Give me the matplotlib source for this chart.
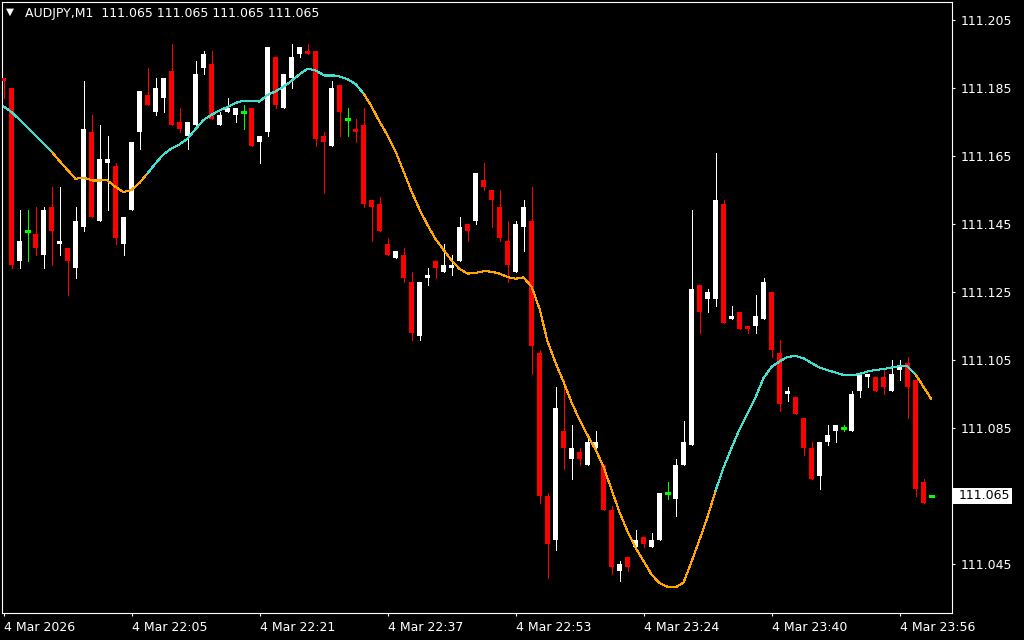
import matplotlib
matplotlib.use("Agg")
import matplotlib.pyplot as plt
import matplotlib.transforms as mtransforms
from matplotlib.collections import LineCollection
from matplotlib.patches import Rectangle
import numpy as np

# ---------------- data ----------------
header_symbol = "AUDJPY,M1"
header_ohlc = ["111.065", "111.065", "111.065", "111.065"]

opens = [111.188, 111.185, 111.134, 111.143, 111.142, 111.136, 111.150, 111.139, 111.138, 111.132,
         111.144, 111.172, 111.146, 111.163, 111.162, 111.139, 111.149, 111.172, 111.183, 111.178,
         111.182, 111.190, 111.175, 111.171, 111.174, 111.191, 111.192, 111.174, 111.178, 111.177,
         111.178, 111.179, 111.169, 111.172, 111.194, 111.179, 111.188, 111.195, 111.196, 111.196,
         111.171, 111.168, 111.186, 111.176, 111.173, 111.174, 111.152, 111.151, 111.139, 111.135,
         111.136, 111.128, 111.112, 111.129, 111.134, 111.131, 111.132, 111.134, 111.145, 111.146,
         111.158, 111.155, 111.150, 111.140, 111.131, 111.144, 111.146, 111.107, 111.065, 111.052,
         111.084, 111.076, 111.078, 111.074, 111.079, 111.074, 111.061, 111.043, 111.047, 111.050,
         111.053, 111.050, 111.052, 111.066, 111.064, 111.074, 111.080, 111.127, 111.123, 111.123,
         111.151, 111.117, 111.119, 111.115, 111.115, 111.117, 111.125, 111.107, 111.095, 111.094,
         111.088, 111.079, 111.071, 111.081, 111.084, 111.085, 111.084, 111.096, 111.100, 111.100,
         111.100, 111.096, 111.102, 111.104, 111.099, 111.069, 111.065]
highs = [111.188, 111.185, 111.149, 111.149, 111.150, 111.150, 111.156, 111.156, 111.138, 111.150,
         111.187, 111.177, 111.174, 111.171, 111.163, 111.147, 111.169, 111.184, 111.191, 111.188,
         111.188, 111.198, 111.179, 111.175, 111.193, 111.196, 111.196, 111.178, 111.182, 111.179,
         111.180, 111.179, 111.171, 111.197, 111.194, 111.189, 111.198, 111.197, 111.198, 111.196,
         111.172, 111.187, 111.186, 111.179, 111.176, 111.179, 111.152, 111.153, 111.141, 111.137,
         111.138, 111.131, 111.128, 111.132, 111.134, 111.139, 111.136, 111.147, 111.145, 111.160,
         111.163, 111.155, 111.155, 111.146, 111.146, 111.152, 111.156, 111.108, 111.066, 111.097,
         111.099, 111.086, 111.079, 111.082, 111.084, 111.074, 111.062, 111.046, 111.047, 111.055,
         111.053, 111.054, 111.066, 111.069, 111.076, 111.087, 111.149, 111.127, 111.126, 111.166,
         111.152, 111.121, 111.119, 111.115, 111.124, 111.129, 111.125, 111.111, 111.097, 111.094,
         111.088, 111.081, 111.081, 111.086, 111.086, 111.086, 111.096, 111.101, 111.101, 111.100,
         111.102, 111.105, 111.105, 111.106, 111.099, 111.070, 111.065]
lows = [111.182, 111.132, 111.132, 111.134, 111.136, 111.132, 111.133, 111.136, 111.124, 111.129,
        111.143, 111.147, 111.146, 111.149, 111.139, 111.136, 111.149, 111.167, 111.180, 111.177,
        111.178, 111.174, 111.172, 111.167, 111.174, 111.189, 111.176, 111.174, 111.178, 111.175,
        111.173, 111.168, 111.163, 111.171, 111.179, 111.179, 111.185, 111.194, 111.195, 111.168,
        111.154, 111.168, 111.171, 111.171, 111.169, 111.150, 111.140, 111.143, 111.136, 111.135,
        111.128, 111.111, 111.111, 111.127, 111.129, 111.131, 111.130, 111.134, 111.140, 111.145,
        111.155, 111.144, 111.140, 111.128, 111.131, 111.137, 111.101, 111.063, 111.041, 111.049,
        111.073, 111.070, 111.074, 111.074, 111.079, 111.061, 111.042, 111.040, 111.043, 111.050,
        111.050, 111.050, 111.052, 111.064, 111.059, 111.074, 111.080, 111.113, 111.119, 111.121,
        111.116, 111.117, 111.114, 111.113, 111.113, 111.117, 111.106, 111.090, 111.093, 111.089,
        111.077, 111.070, 111.067, 111.080, 111.081, 111.084, 111.084, 111.094, 111.097, 111.096,
        111.095, 111.096, 111.099, 111.088, 111.065, 111.063, 111.065]
closes = [111.187, 111.133, 111.140, 111.143, 111.138, 111.149, 111.143, 111.140, 111.134, 111.146,
          111.173, 111.147, 111.164, 111.164, 111.141, 111.147, 111.169, 111.184, 111.180, 111.185,
          111.188, 111.174, 111.173, 111.175, 111.189, 111.195, 111.176, 111.177, 111.179, 111.179,
          111.178, 111.168, 111.171, 111.197, 111.180, 111.189, 111.194, 111.197, 111.195, 111.170,
          111.169, 111.185, 111.178, 111.176, 111.172, 111.151, 111.150, 111.143, 111.136, 111.137,
          111.129, 111.113, 111.128, 111.130, 111.132, 111.133, 111.133, 111.144, 111.143, 111.160,
          111.156, 111.152, 111.141, 111.133, 111.145, 111.150, 111.109, 111.065, 111.051, 111.091,
          111.079, 111.079, 111.076, 111.081, 111.081, 111.061, 111.044, 111.045, 111.044, 111.052,
          111.051, 111.052, 111.066, 111.066, 111.074, 111.081, 111.126, 111.119, 111.125, 111.152,
          111.116, 111.118, 111.114, 111.114, 111.118, 111.128, 111.108, 111.092, 111.096, 111.089,
          111.079, 111.070, 111.081, 111.083, 111.086, 111.085, 111.095, 111.101, 111.101, 111.096,
          111.097, 111.101, 111.103, 111.097, 111.067, 111.063, 111.065]

ma_values = [111.1796, 111.1779, 111.1757, 111.1734, 111.1710, 111.1687, 111.1663, 111.1635, 111.1609, 111.1583,
             111.1586, 111.1579, 111.1579, 111.1578, 111.1559, 111.1544, 111.1550, 111.1571, 111.1599, 111.1628,
             111.1655, 111.1672, 111.1684, 111.1701, 111.1729, 111.1756, 111.1771, 111.1784, 111.1794, 111.1806,
             111.1813, 111.1812, 111.1810, 111.1830, 111.1840, 111.1854, 111.1871, 111.1890, 111.1907, 111.1902,
             111.1888, 111.1888, 111.1884, 111.1876, 111.1862, 111.1834, 111.1796, 111.1751, 111.1711, 111.1664,
             111.1605, 111.1546, 111.1493, 111.1447, 111.1406, 111.1374, 111.1343, 111.1318, 111.1304, 111.1306,
             111.1311, 111.1310, 111.1304, 111.1294, 111.1289, 111.1293, 111.1266, 111.1201, 111.1105, 111.1042,
             111.0986, 111.0926, 111.0874, 111.0829, 111.0787, 111.0736, 111.0669, 111.0602, 111.0546, 111.0498,
             111.0459, 111.0419, 111.0394, 111.0383, 111.0381, 111.0395, 111.0457, 111.0521, 111.0588, 111.0665,
             111.0733, 111.0791, 111.0846, 111.0893, 111.0940, 111.0997, 111.1030, 111.1046, 111.1059, 111.1062,
             111.1055, 111.1041, 111.1028, 111.1020, 111.1013, 111.1006, 111.1005, 111.1009, 111.1016, 111.1021,
             111.1023, 111.1028, 111.1032, 111.1031, 111.1008, 111.0971, 111.0934]

# colour state of the moving average: (state, first bar, last bar)
ma_runs = [("up", 0, 5), ("down", 6, 17), ("up", 18, 44), ("down", 45, 88),
           ("up", 89, 113), ("down", 114, 116)]

price_ticks = [111.205, 111.185, 111.165, 111.145, 111.125, 111.105, 111.085, 111.065, 111.045]
time_tick_bars = [0, 16, 32, 48, 64, 80, 96, 112]
time_tick_labels = ["4 Mar 2026", "4 Mar 22:05", "4 Mar 22:21", "4 Mar 22:37",
                    "4 Mar 22:53", "4 Mar 23:24", "4 Mar 23:40", "4 Mar 23:56"]
last_price = 111.065

# ---------------- style ----------------
BG = "black"
FG = "white"
BULL = "#FFFFFF"
BEAR = "#FF0000"
DOJI = "#00FF00"
MA_UP = "#40E0D0"
MA_DOWN = "#FFA500"
FS = 9

plt.rcParams["font.family"] = ["DejaVu Sans"]

W, H = 1024, 640
fig = plt.figure(figsize=(W / 100, H / 100), dpi=100, facecolor=BG)
ax = fig.add_axes([2 / W, 27 / H, 950 / W, 611 / H], facecolor=BG)

n = len(opens)
px_per_bar = 8.0
x0 = -1.5 / px_per_bar
ax.set_xlim(x0, x0 + 950 / px_per_bar)
px_per_unit = 3400.0
top_price = 111.205 + 18 / px_per_unit
ax.set_ylim(top_price - 611 / px_per_unit, top_price)

body_w = 5 / px_per_bar
one_px = 0.72
for i in range(n):
    o, h, l, c = opens[i], highs[i], lows[i], closes[i]
    if c > o:
        col = BULL
    elif c < o:
        col = BEAR
    else:
        col = DOJI
    if h > l:
        ax.vlines(i, l, h, colors=col, linewidth=one_px, antialiased=False, zorder=2)
    if c == o:
        ax.hlines(o, i - body_w / 2, i + body_w / 2, colors=col, linewidth=one_px * 1.4,
                  antialiased=False, zorder=3)
    else:
        ax.add_patch(Rectangle((i - body_w / 2, min(o, c)), body_w, abs(c - o),
                               facecolor=col, edgecolor="none", antialiased=True, zorder=3))

# moving average, coloured by state
state_of_bar = [None] * n
for st, a, b in ma_runs:
    for k in range(a, b + 1):
        state_of_bar[k] = st
segs, cols = [], []
for i in range(n - 1):
    segs.append([(i, ma_values[i]), (i + 1, ma_values[i + 1])])
    cols.append(MA_UP if state_of_bar[i] == "up" else MA_DOWN)
ax.add_collection(LineCollection(segs, colors=cols, linewidths=0.75, antialiased=False, zorder=4))

# axes / ticks
for s in ax.spines.values():
    s.set_color(FG)
    s.set_linewidth(0.8)
ax.yaxis.tick_right()
ax.set_yticks(price_ticks, [f"{v:.3f}" for v in price_ticks])
ax.tick_params(axis="y", colors=FG, length=2.5, width=0.8, pad=4, labelsize=FS)
ax.set_xticks(time_tick_bars, time_tick_labels, ha="left")
ax.tick_params(axis="x", colors=FG, length=2.5, width=0.8, pad=3, labelsize=FS)

# current price label box
blend = mtransforms.blended_transform_factory(fig.transFigure, ax.transData)
half = 8 / px_per_unit
fig.patches.append(Rectangle((953 / W, last_price - half), 59 / W, 2 * half,
                             transform=blend, facecolor="white", edgecolor="none", zorder=5))
fig.text(959 / W, last_price, f"{last_price:.3f}", transform=blend, color="black",
         fontsize=FS, ha="left", va="center", zorder=6)

# header
fig.text(6 / W, 1 - 12 / H, "\u25BC", color=FG, fontsize=7.5, ha="left", va="center")
fig.text(25 / W, 1 - 13 / H, header_symbol + "  " + " ".join(header_ohlc),
         color=FG, fontsize=FS, ha="left", va="center")

fig.savefig("out.png", dpi=100, facecolor=BG)
